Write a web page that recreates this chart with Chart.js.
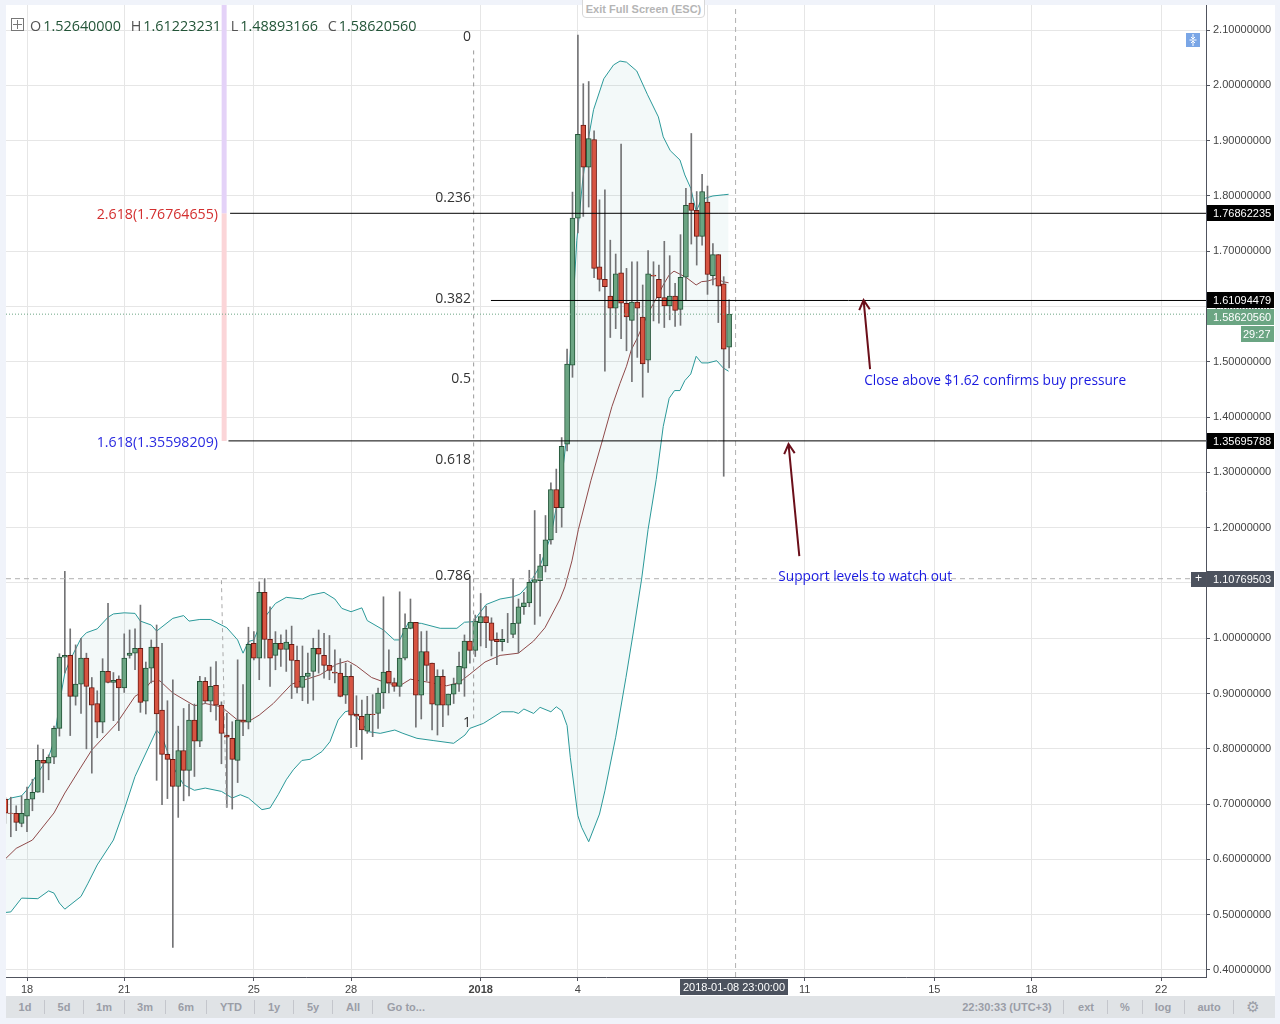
<!DOCTYPE html>
<html>
<head>
<meta charset="utf-8">
<title>4H chart</title>
<script src="https://cdn.jsdelivr.net/npm/chart.js@4"></script>
<style>
    html, body { margin: 0; padding: 0; background: #f0f3fa; }
    #wrap { position: relative; width: 1280px; height: 1024px; overflow: hidden; }
    #price { position: absolute; left: 0; top: 0; }
    .header { position: absolute; left: 30px; top: 16px; font: 14.4px "Open Sans", sans-serif; color: #535353; white-space: nowrap; }
    .header b { font-weight: normal; color: #225437; margin-right: 9.6px; margin-left: 2px; }
    .plus { position: absolute; left: 11px; top: 18px; width: 11px; height: 11px; border: 1px solid #777; }
    .plus:before { content: ""; position: absolute; left: 5px; top: 1px; width: 1px; height: 9px; background: #777; }
    .plus:after { content: ""; position: absolute; left: 1px; top: 5px; width: 9px; height: 1px; background: #777; }
    .exit { position: absolute; left: 582px; top: -4px; width: 121px; height: 20px; text-align: center;
            border: 1px solid #d8d8d8; border-radius: 4px; background: #fff; font: bold 11px/24px "Liberation Sans", sans-serif; color: #b5b5b5; }
    .toolbar { position: absolute; left: 6px; top: 996px; width: 1269px; height: 22px; background: #e0e3e6; }
    .toolbar span { position: absolute; top: 5px; font: bold 11px "Liberation Sans", sans-serif; color: #9a9da6; transform: translateX(-50%); white-space: nowrap; }
    .toolbar i { position: absolute; top: 4px; width: 1px; height: 14px; background: #c4c6cc; }
    .icon { position: absolute; left: 1186px; top: 33px; }
</style>
</head>
<body>
<div id="wrap">
    <canvas id="price" width="1280" height="1024"></canvas>
    <div class="plus"></div>
    <div class="header">O<b>1.52640000</b>H<b>1.61223231</b>L<b>1.48893166</b>C<b>1.58620560</b></div>
    <div class="exit">Exit Full Screen (ESC)</div>
    <svg class="icon" width="14" height="14"><rect width="14" height="14" fill="#7aa6e6"/><path d="M7 1v5M5 4l2 2 2-2M3.500 7h7M7 13V8M5 10l2-2 2 2" stroke="#fff" fill="none"/></svg>
    <div class="toolbar" id="toolbar"></div>
</div>

<script>
// Candles, 4H, first candle sits at index -4 on the x axis
const firstIndex = -4;
const opens = [0.709,0.684,0.6835,0.665,0.678,0.709,0.7215,0.779,0.774,0.785,0.837,0.966,0.969,0.895,0.917,0.964,0.911,0.882,0.848,0.940,0.920,0.926,0.910,0.969,0.973,0.982,0.886,0.946,0.984,0.870,0.790,0.781,0.732,0.797,0.761,0.852,0.814,0.922,0.886,0.915,0.879,0.825,0.819,0.779,0.852,0.848,0.991,0.964,1.083,0.998,0.969,0.991,0.980,0.989,0.960,0.911,0.931,0.940,0.982,0.969,0.951,0.939,0.937,0.897,0.931,0.863,0.859,0.832,0.863,0.864,0.901,0.940,0.920,0.913,0.964,1.018,1.029,0.897,0.976,0.955,0.879,0.931,0.879,0.899,0.917,0.946,0.995,0.978,1.028,1.039,1.028,0.998,0.994,1.001,1.007,1.027,1.057,1.064,1.101,1.104,1.131,1.178,1.269,1.236,1.351,1.494,1.760,1.928,1.852,1.902,1.672,1.649,1.619,1.597,1.661,1.606,1.575,1.608,1.581,1.503,1.657,1.649,1.616,1.601,1.619,1.595,1.653,1.787,1.774,1.727,1.789,1.656,1.694,1.641,1.5264];
const closes = [0.6835,0.683,0.667,0.6835,0.709,0.7215,0.779,0.774,0.785,0.837,0.966,0.969,0.895,0.917,0.964,0.913,0.879,0.848,0.940,0.920,0.924,0.910,0.964,0.973,0.982,0.884,0.946,0.984,0.863,0.790,0.781,0.732,0.797,0.761,0.852,0.814,0.922,0.886,0.913,0.879,0.828,0.821,0.781,0.852,0.848,0.989,0.964,1.083,0.998,0.964,0.991,0.980,0.993,0.960,0.911,0.931,0.937,0.982,0.971,0.951,0.942,0.937,0.895,0.931,0.861,0.859,0.834,0.863,0.862,0.901,0.939,0.919,0.913,0.964,1.018,1.029,0.897,0.976,0.951,0.881,0.931,0.879,0.899,0.917,0.949,0.995,0.978,1.031,1.039,1.028,0.996,0.994,0.998,1.001,1.027,1.057,1.064,1.101,1.106,1.131,1.178,1.269,1.236,1.347,1.496,1.760,1.9115,1.852,1.904,1.669,1.649,1.636,1.597,1.659,1.606,1.581,1.608,1.597,1.496,1.659,1.655,1.616,1.601,1.619,1.593,1.653,1.783,1.774,1.727,1.808,1.658,1.694,1.637,1.523,1.5862];
const highs = [0.712,0.7125,0.697,0.715,0.731,0.745,0.807,0.799,0.789,0.841,0.972,1.121,1.017,0.988,1.000,0.973,0.929,0.905,0.963,1.063,0.938,0.932,1.008,1.015,1.017,1.060,0.957,0.997,1.024,0.991,0.887,0.925,0.841,0.873,0.881,0.881,0.931,0.929,0.948,0.958,0.885,0.864,0.849,0.961,0.916,1.020,1.012,1.102,1.108,1.057,1.012,1.006,1.015,1.022,0.986,0.986,0.973,1.000,1.015,1.009,1.005,0.979,0.963,0.955,0.952,0.896,0.888,0.895,0.898,0.910,1.075,0.979,0.928,1.084,1.044,1.071,1.029,1.012,1.013,0.955,0.943,0.943,0.899,0.928,0.975,1.006,1.112,1.042,1.081,1.058,1.037,1.010,1.016,1.045,1.108,1.071,1.083,1.123,1.231,1.152,1.222,1.281,1.306,1.363,1.523,1.807,2.091,2.003,2.007,1.918,1.793,1.811,1.720,1.695,1.894,1.669,1.681,1.681,1.639,1.701,1.681,1.675,1.718,1.692,1.642,1.730,1.814,1.913,1.808,1.839,1.818,1.714,1.694,1.654,1.6122];
const lows = [0.665,0.641,0.652,0.659,0.650,0.688,0.7215,0.721,0.744,0.773,0.823,0.937,0.824,0.879,0.864,0.800,0.756,0.820,0.829,0.919,0.851,0.833,0.902,0.964,0.943,0.866,0.863,0.919,0.743,0.699,0.710,0.441,0.676,0.706,0.715,0.750,0.804,0.882,0.867,0.852,0.773,0.694,0.691,0.739,0.824,0.836,0.961,0.925,0.964,0.913,0.943,0.949,0.940,0.891,0.901,0.887,0.882,0.888,0.937,0.928,0.925,0.919,0.894,0.882,0.802,0.804,0.781,0.828,0.822,0.837,0.873,0.901,0.904,0.895,0.961,1.017,0.839,0.854,0.923,0.834,0.825,0.840,0.861,0.882,0.904,0.895,0.955,0.967,0.986,0.983,0.968,0.952,0.977,0.992,1.001,0.974,1.043,1.057,1.025,1.040,1.120,1.170,1.191,1.201,1.339,1.472,1.733,1.763,1.780,1.652,1.628,1.483,1.544,1.560,1.542,1.520,1.464,1.508,1.436,1.481,1.574,1.570,1.562,1.576,1.564,1.566,1.612,1.713,1.675,1.711,1.622,1.639,1.571,1.293,1.4889];

// Bollinger bands, sampled along the x axis
const upperX = [-4,-3,-1,0,2,4,5,6,7,8,10,11,13,15,16,18,20,21,23,24,27,29,30,32,34,37,39,40,41,42,43.4,46,48,51,52.5,55,57,58.3,60,62,63,66,68,69,70.6,73,76.5,79.6,81,82.6,85,87.6,90,91.3,93,95,97,99,100,100.5,101.8,102.9,103.9,104.9,106.8,108.6,109.8,111,112.9,114.9,116.9,117.8,119.1,120.9,121.8,122.9,123.9,124.9,127,128.9,129.9];
const upperBand = [0.705,0.711,0.715,0.726,0.756,0.786,0.813,0.882,0.937,0.961,1.000,1.010,1.017,1.038,1.044,1.046,1.045,1.031,1.024,1.013,1.036,1.041,1.031,1.034,1.034,1.019,0.997,0.973,0.994,0.997,1.030,1.063,1.074,1.071,1.078,1.083,1.071,1.054,1.048,1.055,1.032,1.015,0.997,0.997,1.028,1.027,1.018,1.018,1.029,1.030,1.061,1.071,1.075,1.080,1.098,1.131,1.185,1.288,1.370,1.500,1.720,1.829,1.901,1.956,2.012,2.037,2.044,2.042,2.026,1.983,1.943,1.907,1.882,1.865,1.838,1.814,1.772,1.794,1.800,1.802,1.803];
const lowerX = [-4,-3,-1,2,4,5,6,7,10,11.3,13,16,18,20,24,25,27,29,31,33,36,38,39.5,41,43.5,45,46.5,48,49.3,50.9,52.4,54.6,56.1,57.6,58.9,60.1,61,63.2,65.4,68.1,69.6,72.2,75.2,79,81.1,82,84.5,87.9,90.1,91,92,93.8,95,97,98,99,100,100.6,102,102.7,104,106,107,109,110.9,112.3,113.8,115,116.5,117.8,118.9,119.9,120.9,121.8,122.9,123.9,124.9,126.1,127.7,128.9,129.9];
const lowerBand = [0.504,0.505,0.530,0.529,0.543,0.539,0.521,0.510,0.533,0.557,0.590,0.635,0.690,0.750,0.834,0.822,0.768,0.735,0.725,0.729,0.723,0.711,0.717,0.711,0.690,0.693,0.717,0.744,0.762,0.779,0.781,0.795,0.813,0.852,0.867,0.870,0.858,0.831,0.828,0.834,0.828,0.819,0.815,0.810,0.825,0.837,0.846,0.867,0.867,0.864,0.872,0.864,0.875,0.867,0.876,0.869,0.842,0.784,0.679,0.658,0.632,0.682,0.724,0.821,0.929,1.013,1.107,1.197,1.287,1.383,1.434,1.448,1.448,1.466,1.478,1.510,1.498,1.498,1.502,1.489,1.483];
const middleX = [-4,-2,1,5,7,10,12,16.6,20,21.5,23,24.6,27,31,33,36,39,41.3,43,45.6,49,54.3,57.3,59.4,61,63.8,66.6,69,71,74.6,77.7,80,82,84.8,87.6,91,93.8,95.9,98.7,99.6,100.9,102.1,104.4,106.4,108.3,109.8,111,111.9,113,115,116.6,117.8,118.9,119.8,122,123.9,124.9,126,127.7,128.8,129.9];
const middleBand = [0.601,0.620,0.635,0.684,0.720,0.767,0.798,0.846,0.895,0.904,0.922,0.923,0.901,0.878,0.882,0.876,0.852,0.851,0.861,0.882,0.917,0.934,0.953,0.959,0.950,0.929,0.919,0.914,0.926,0.920,0.914,0.920,0.935,0.957,0.969,0.973,0.995,1.019,1.071,1.093,1.140,1.197,1.285,1.353,1.419,1.461,1.492,1.522,1.543,1.588,1.616,1.639,1.657,1.664,1.653,1.639,1.645,1.646,1.651,1.645,1.643];

// Axis ticks
const priceTicks = [0.4,0.5,0.6,0.7,0.8,0.9,1.0,1.1,1.2,1.3,1.4,1.5,1.6,1.7,1.8,1.9,2.0,2.1];
const dayTicks = [0,18,42,60,84,102,126,144,168,186,210];
const dayLabels = ['18','21','25','28','2018','4','8','11','15','18','22'];

// Drawn levels and notes
const fibUpper = 1.76862235, fibUpperLabel = '2.618(1.76764655)';
const fibMiddle = 1.61094479;
const fibLower = 1.35695788, fibLowerLabel = '1.618(1.35598209)';
const lastPrice = 1.5862056;
const crossPrice = 1.10769503, crossIndex = 131.2;
const fibLabels = ['0','0.236','0.382','0.5','0.618','0.786','1'];
const fibLabelPrices = [2.087,1.796,1.613,1.469,1.322,1.112,0.8467];
const noteBuy = 'Close above $1.62 confirms buy pressure';
const noteSupport = 'Support levels to watch out';

const candleX = opens.map((_, i) => firstIndex + i);
const xMin = -3.89, xMax = 218.3, yMin = 0.3873, yMax = 2.1454;

const pairs = (xs, ys) => xs.map((x, i) => ({ x: x, y: ys[i] }));
const isUp = i => closes[i] >= opens[i];

function levelLine(points, color, extra) {
    return Object.assign({
        type: 'line', data: points, borderColor: color, borderWidth: 1,
        pointRadius: 0, fill: false, tension: 0, order: 1
    }, extra);
}

// White panel behind the plot and both axes
const panel = {
    id: 'panel',
    beforeDraw(chart) {
        chart.ctx.fillStyle = '#fff';
        chart.ctx.fillRect(6, 5, 1269, 991);
    }
};

// Text, price tags and arrows sit on top of the chart
const annotations = {
    id: 'annotations',
    afterDraw(chart) {
        const c = chart.ctx, xs = chart.scales.x, ys = chart.scales.y;
        c.save();

        const text = (str, x, y, color, font, align) => {
            c.font = font || '14px "Open Sans", sans-serif';
            c.fillStyle = color;
            c.textAlign = align || 'left';
            c.textBaseline = 'middle';
            c.fillText(str, x, y);
        };
        fibLabels.forEach((s, i) => text(s, 471, ys.getPixelForValue(fibLabelPrices[i]), '#333', null, 'right'));
        text(fibUpperLabel, 218, ys.getPixelForValue(fibUpper) + 2, '#d32f2f', '14.2px "Open Sans", sans-serif', 'right');
        text(fibLowerLabel, 218, ys.getPixelForValue(fibLower) + 2, '#2a2ae0', '14.2px "Open Sans", sans-serif', 'right');
        text(noteBuy, xs.getPixelForValue(155), ys.getPixelForValue(1.465), '#1a1ae0', '13.7px "Open Sans", sans-serif');
        text(noteSupport, xs.getPixelForValue(139.1), ys.getPixelForValue(1.1108), '#1a1ae0', '13.7px "Open Sans", sans-serif');

        const arrow = (x0, y0, x1, y1) => {
            const ax = xs.getPixelForValue(x0), ay = ys.getPixelForValue(y0);
            const bx = xs.getPixelForValue(x1), by = ys.getPixelForValue(y1);
            const ang = Math.atan2(by - ay, bx - ax);
            c.strokeStyle = '#6b0f1a';
            c.lineWidth = 2;
            c.beginPath();
            c.moveTo(ax, ay);
            c.lineTo(bx, by);
            c.moveTo(bx - 11 * Math.cos(ang - 0.5), by - 11 * Math.sin(ang - 0.5));
            c.lineTo(bx, by);
            c.lineTo(bx - 11 * Math.cos(ang + 0.5), by - 11 * Math.sin(ang + 0.5));
            c.stroke();
        };
        arrow(156.1, 1.4869, 154.9, 1.6117);
        arrow(143, 1.1487, 141, 1.3513);

        // price tags on the right axis, the last price tag is pushed below the level above it
        const tag = (price, str, bg, fg, shift) => {
            const y = Math.round(ys.getPixelForValue(price)) + (shift || 0);
            c.fillStyle = bg;
            c.fillRect(1207, y - 8, 67, 16);
            text(str, 1213, y + 1, fg, '11px "Liberation Sans", sans-serif');
        };
        tag(fibUpper, '1.76862235', '#000', '#fff');
        tag(fibMiddle, '1.61094479', '#000', '#fff');
        tag(lastPrice, '1.58620560', '#6ba583', '#fff', 3);
        tag(fibLower, '1.35695788', '#000', '#fff');
        tag(crossPrice, '1.10769503', '#4c525e', '#fff');
        c.fillStyle = '#6ba583';
        c.fillRect(1241, 326, 33, 16);
        text('29:27', 1243, 335, '#fff', '11px "Liberation Sans", sans-serif');
        c.fillStyle = '#4c525e';
        c.fillRect(1191, 572, 15, 15);
        text('+', 1198.5, 579, '#fff', '12px "Liberation Sans", sans-serif', 'center');

        // crosshair date on the time axis
        c.fillStyle = '#4c525e';
        c.fillRect(680, 979, 108, 16);
        text('2018-01-08 23:00:00', 734, 987.5, '#fff', '11px "Liberation Sans", sans-serif', 'center');
        c.restore();
    }
};

new Chart(document.getElementById('price').getContext('2d'), {
    type: 'bar',
    data: {
        datasets: [
            // bands
            levelLine(pairs(upperX, upperBand), '#2b9a9a', { fill: { target: 1 }, backgroundColor: 'rgba(43,154,154,0.06)', order: 8 }),
            levelLine(pairs(lowerX, lowerBand), '#2b9a9a', { order: 8 }),
            levelLine(pairs(middleX, middleBand), '#8f4a4a', { order: 7 }),
            // wicks and bodies
            {
                type: 'bar', grouped: false, order: 6, barThickness: 1,
                data: candleX.map((x, i) => ({ x: x, y: [lows[i], highs[i]] })),
                backgroundColor: '#737375', borderWidth: 0
            },
            {
                type: 'bar', grouped: false, order: 5, barThickness: 5, borderSkipped: false,
                data: candleX.map((x, i) => ({ x: x, y: [opens[i], closes[i]] })),
                backgroundColor: candleX.map((x, i) => isUp(i) ? '#6ba583' : '#d75442'),
                borderColor: candleX.map((x, i) => isUp(i) ? '#225437' : '#6b1a13'),
                borderWidth: 1
            },
            // drawing tools
            levelLine(pairs([37.6, xMax], [fibUpper, fibUpper]), '#000'),
            levelLine(pairs([85.9, xMax], [fibMiddle, fibMiddle]), '#000'),
            levelLine(pairs([37.3, xMax], [fibLower, fibLower]), '#000'),
            levelLine(pairs([xMin, xMax], [lastPrice, lastPrice]), '#6ba583', { borderDash: [1, 2] }),
            levelLine(pairs([xMin, xMax], [crossPrice, crossPrice]), '#b0b0b0', { borderDash: [5, 4] }),
            levelLine(pairs([crossIndex, crossIndex], [yMin, yMax]), '#b0b0b0', { borderDash: [5, 4] }),
            levelLine(pairs([82.7, 82.7], [0.855, 2.07]), '#999', { borderDash: [4, 4] }),
            levelLine(pairs([36, 36.9], [1.105, 0.694]), '#aaa', { borderDash: [4, 4] }),
            levelLine(pairs([36.5, 36.5], [fibUpper, yMax]), '#e4d2f8', { borderWidth: 5, order: 9 }),
            levelLine(pairs([36.5, 36.5], [fibLower, fibUpper]), '#fbd5d8', { borderWidth: 5, order: 9 })
        ]
    },
    options: {
        responsive: false,
        animation: false,
        events: [],
        layout: { padding: { left: 6, top: 5, right: 0, bottom: 0 } },
        plugins: { legend: { display: false }, tooltip: { enabled: false } },
        scales: {
            x: {
                type: 'linear', min: xMin, max: xMax, offset: false,
                afterBuildTicks: axis => { axis.ticks = dayTicks.map(v => ({ value: v })); },
                afterFit: axis => { axis.height = 47; axis.paddingLeft = 0; axis.paddingRight = 0; },
                grid: { offset: false, color: '#e6e6e6', tickColor: '#50535e', tickLength: 4 },
                border: { color: '#50535e' },
                ticks: {
                    autoSkip: false, maxRotation: 0, padding: 2, color: '#444',
                    font: ctx => ({ family: '"Liberation Sans", sans-serif', size: 11, weight: dayLabels[ctx.index] === '2018' ? 'bold' : 'normal' }),
                    callback: (value, index) => dayLabels[index]
                }
            },
            y: {
                type: 'linear', position: 'right', min: yMin, max: yMax, beginAtZero: false,
                afterBuildTicks: axis => { axis.ticks = priceTicks.map(v => ({ value: v })); },
                afterFit: axis => { axis.width = 74; axis.paddingTop = 0; axis.paddingBottom = 0; },
                grid: { color: '#e6e6e6', tickColor: '#50535e', tickLength: 4 },
                border: { color: '#50535e' },
                ticks: {
                    padding: 3, color: '#444',
                    font: { family: '"Liberation Sans", sans-serif', size: 11 },
                    callback: value => value.toFixed(8)
                }
            }
        }
    },
    plugins: [panel, annotations]
});

// Bottom toolbar
const rangeButtons = ['1d','5d','1m','3m','6m','YTD','1y','5y','All','Go to...'];
const rangeCenters = [25,64,104,145,186,231,274,313,353,406];
const optionButtons = ['22:30:33 (UTC+3)','ext','%','log','auto','\u2699'];
const optionCenters = [1007,1086,1125,1163,1209,1253];
const separators = [44,83,124,165,206,254,293,332,372,1063,1107,1142,1184,1233];
const toolbar = document.getElementById('toolbar');
rangeButtons.concat(optionButtons).forEach((label, i) => {
    const s = document.createElement('span');
    s.textContent = label;
    s.style.left = (rangeCenters.concat(optionCenters)[i] - 6) + 'px';
    if (label === '\u2699') { s.style.font = '15px "DejaVu Sans"'; s.style.top = '2px'; }
    toolbar.appendChild(s);
});
separators.forEach(x => {
    const line = document.createElement('i');
    line.style.left = (x - 6) + 'px';
    toolbar.appendChild(line);
});
</script>
</body>
</html>
